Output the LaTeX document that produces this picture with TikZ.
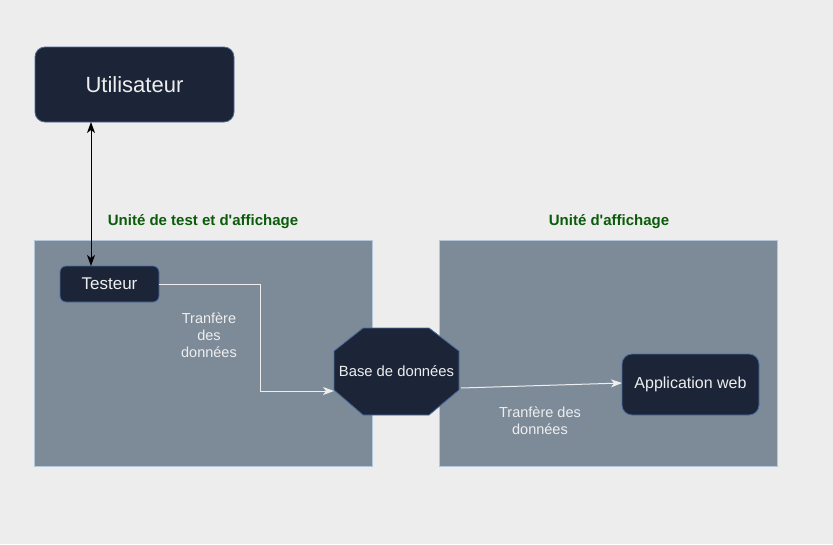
\documentclass[tikz,border=0pt]{standalone}
\usepackage{fontspec}
\setmainfont{Liberation Sans}
\usetikzlibrary{arrows.meta}
\definecolor{bg}{HTML}{EDEDED}
\definecolor{cont}{HTML}{7D8B99}
\definecolor{contb}{HTML}{B4C6DA}
\definecolor{nodef}{HTML}{1C2538}
\definecolor{nodeb}{HTML}{4D6B9E}
\definecolor{ntext}{HTML}{EEEEEE}
\definecolor{ttl}{HTML}{0A5C0A}
\tikzset{
  container/.style={draw=contb, fill=cont, line width=1pt},
  dark/.style={draw=nodeb, fill=nodef, text=ntext, line width=0.8pt},
  ttlstyle/.style={text=ttl, font=\fontsize{15}{18}\selectfont\bfseries},
  lbl/.style={text=ntext, font=\fontsize{14.5}{17}\selectfont, align=center},
  tip/.tip={Stealth[length=11pt,width=8pt,inset=3pt]},
  wline/.style={draw=ntext, line width=1pt, -tip},
}
\begin{document}
\begin{tikzpicture}[x=1pt,y=-1pt]
\fill[bg] (0,0) rectangle (833,544);
\useasboundingbox (0,0) rectangle (833,544);
% containers
\path[container] (34,240) rectangle (372,466);
\path[container] (439,240) rectangle (777,466);
\node[ttlstyle] (t1) at (203,222) {Unité de test et d\textquotesingle affichage};
\node[ttlstyle] (t2) at (609,222) {Unité d\textquotesingle affichage};
% nodes
\path[dark, rounded corners=10pt] (35,47) rectangle (234,122);
\node[text=ntext, font=\fontsize{22}{26}\selectfont] (user) at (134.5,84.5) {Utilisateur};
\coordinate (userB) at (91,122);
\path[dark, rounded corners=6pt] (60,266) rectangle (159,302);
\node[text=ntext, font=\fontsize{17}{20}\selectfont] (test) at (109.5,284) {Testeur};
\coordinate (testT) at (91,266);
\coordinate (testR) at (159,284);
\path[dark] (363,328) -- (429,328) -- (459,351) -- (459,390) -- (429,415) -- (363,415) -- (334,390) -- (334,351) -- cycle;
\node[text=ntext, font=\fontsize{14.8}{17}\selectfont] (db) at (396.5,371.5) {Base de données};
\coordinate (dbL) at (334,391);
\coordinate (dbR) at (461,388);
\path[dark, rounded corners=10pt] (622,354) rectangle (759,415);
\node[text=ntext, font=\fontsize{16}{19}\selectfont] (app) at (690.5,384.5) {Application web};
\coordinate (appL) at (622,383);
% connectors
\draw[line width=1pt, tip-tip] (userB) -- (testT);
\draw[wline] (testR) -- (260,284) -- (260,391) -- (dbL);
\draw[wline] (dbR) -- (appL);
\node[lbl] (l1) at (209,335) {Tranfère\\des\\données};
\node[lbl] (l2) at (540,421) {Tranfère des\\données};
\end{tikzpicture}
\end{document}
